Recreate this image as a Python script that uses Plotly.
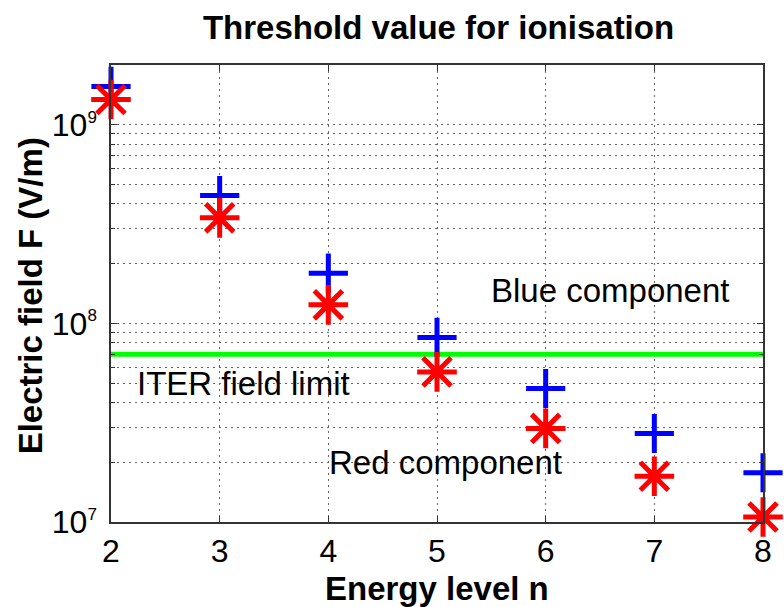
import plotly.graph_objects as go

# Ionisation threshold field per principal quantum number
levels = [2, 3, 4, 5, 6, 7, 8]
blue_field = [1.56e9, 4.4e8, 1.79e8, 8.5e7, 4.7e7, 2.79e7, 1.77e7]
red_field = [1.34e9, 3.4e8, 1.24e8, 5.7e7, 2.96e7, 1.70e7, 1.06e7]
iter_limit = 7.0e7

y_ticks = [1e7, 1e8, 1e9]
y_exponents = [7, 8, 9]

FONT = "Liberation Sans, Arial, Helvetica, sans-serif"
GRID = "#666666"
DOTS = "2px,4px"

y_tick_text = [f"10<sup><span style='font-size:17px'>{e}</span></sup>"
               for e in y_exponents]

fig = go.Figure()

fig.add_trace(go.Scatter(
    x=[levels[0], levels[-1]], y=[iter_limit, iter_limit],
    mode="lines", line=dict(color="#00FF00", width=5),
    hoverinfo="skip", showlegend=False,
))
fig.add_trace(go.Scatter(
    x=levels, y=blue_field, mode="markers", cliponaxis=False,
    marker=dict(symbol="cross-thin", size=28,
                line=dict(color="#0000FF", width=5)),
    showlegend=False,
))
fig.add_trace(go.Scatter(
    x=levels, y=red_field, mode="markers", cliponaxis=False,
    marker=dict(symbol="asterisk", size=33,
                line=dict(color="#FF0000", width=5)),
    showlegend=False,
))

fig.update_layout(
    width=784, height=607,
    margin=dict(l=111, r=18, t=65, b=85),
    paper_bgcolor="white", plot_bgcolor="white",
    font=dict(family=FONT, color="black"),
    title=dict(text="<b>Threshold value for ionisation</b>",
               x=(111 + 766) / 2 / 784, xanchor="center",
               y=1 - 27 / 607, yanchor="middle", yref="container",
               font=dict(size=33, family=FONT, color="black")),
)

fig.update_xaxes(
    range=[2, 8], dtick=1, tick0=2,
    showline=True, mirror="ticks", linecolor="#333333", linewidth=1.5,
    ticks="inside", ticklen=6, tickcolor="#333333",
    showgrid=True, gridcolor=GRID, griddash=DOTS, gridwidth=1,
    zeroline=False,
    tickfont=dict(size=32, family=FONT, color="black"),
    ticklabelstandoff=0,
)
fig.update_yaxes(
    type="log", range=[7, 9.301],
    tickvals=y_ticks, ticktext=y_tick_text,
    showline=True, mirror="ticks", linecolor="#333333", linewidth=1.5,
    ticks="inside", ticklen=6, tickcolor="#333333",
    showgrid=True, gridcolor=GRID, griddash=DOTS, gridwidth=1,
    minor=dict(dtick="D1", ticks="inside", ticklen=4, tickcolor="#333333",
               showgrid=True, gridcolor=GRID, griddash=DOTS, gridwidth=1),
    zeroline=False,
    tickfont=dict(size=32, family=FONT, color="black"),
    ticklabelstandoff=6,
)

# Axis titles
fig.add_annotation(text="<b>Energy level n</b>", xref="paper", yref="paper",
                   x=0.5, y=-(588 - 522) / (607 - 65 - 85), yanchor="middle",
                   showarrow=False, font=dict(size=33, family=FONT))
fig.add_annotation(text="<b>Electric field F (V/m)</b>", xref="paper", yref="paper",
                   x=-(111 - 30) / (784 - 111 - 18), xanchor="center",
                   y=1 - (296 - 65) / (607 - 65 - 85), yanchor="middle",
                   textangle=-90, showarrow=False, font=dict(size=33, family=FONT))

# In-plot labels
fig.add_annotation(text="Blue component", x=6.6, y=8.164, showarrow=False,
                   font=dict(size=33, family=FONT))
fig.add_annotation(text="ITER field limit", x=3.22, y=7.697, showarrow=False,
                   font=dict(size=33, family=FONT))
fig.add_annotation(text="Red component", x=5.08, y=7.30, showarrow=False,
                   font=dict(size=33, family=FONT))

fig.write_html("out.html")
